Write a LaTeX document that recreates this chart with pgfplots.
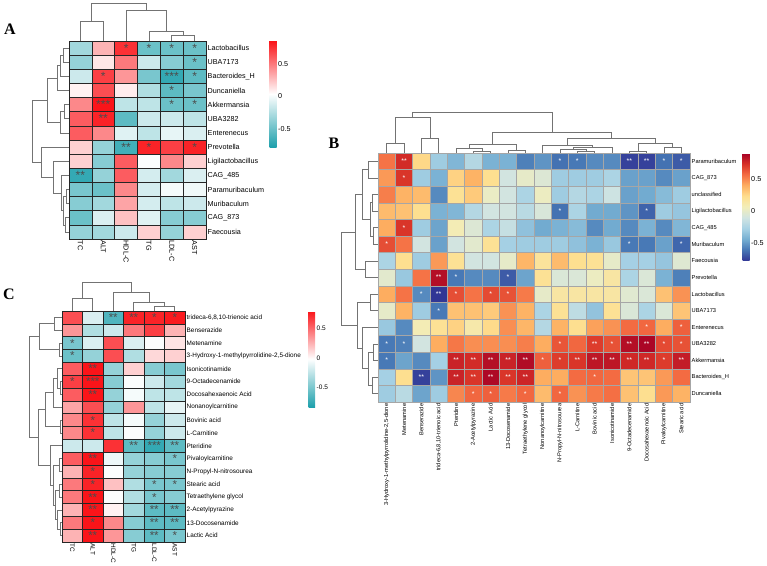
\documentclass[border=0pt]{standalone}
\usepackage{pgfplots}
\pgfplotsset{compat=1.18}
\usepackage{pgfplotstable}
\usepackage{fontspec}
\setmainfont{Liberation Sans}
\newfontfamily\letterfont{Liberation Serif}

\pgfplotsset{
  colormap={tealred}{rgb255=(30,160,172) rgb255=(255,255,255) rgb255=(250,20,25)},
  colormap={rdylbu}{rgb255=(49,54,149) rgb255=(69,117,180) rgb255=(116,173,209)
    rgb255=(166,209,228) rgb255=(208,228,226) rgb255=(242,238,186) rgb255=(254,222,142)
    rgb255=(253,174,97) rgb255=(244,109,67) rgb255=(215,48,39) rgb255=(165,0,38)},
  heat/.style={scale only axis, anchor=south west, y dir=reverse, clip=false,
    axis line style={draw=none}, tick style={draw=none}, major tick length=0pt,
    yticklabel pos=right, yticklabel style={anchor=west, inner sep=1.5pt},
    xticklabel style={inner sep=1.5pt}},
  cellbase/.style={only marks, scatter, mark=square*, point meta=explicit},
  starbase/.style={only marks, mark=none, nodes near coords, point meta=explicit symbolic},
  cbarbase/.style={colorbar, colorbar style={at={(parent axis.north east)},
    anchor=north west, width=7pt, y dir=normal, xtick=\empty,
    ytick={-0.5,0,0.5}, yticklabels={-0.5,0,0.5}, yticklabel pos=right,
    axis line style={draw=none}, tick style={draw=none}, major tick length=0pt,
    yticklabel style={anchor=west, inner sep=1.5pt}}},
  dendro/.style={black!55, line width=0.7pt, mark=none, point meta=none, unbounded coords=jump},
}

% Spearman correlations, gut genera (rows) vs serum lipids/enzymes (TC ALT HDL-C TG LDL-C AST)
\pgfplotstableread{
c0 c1 c2 c3 c4 c5
-0.30  0.30  0.75 -0.50 -0.50 -0.50
-0.35  0.12  0.50 -0.15 -0.40 -0.50
-0.15  0.70  0.40 -0.45 -0.70 -0.55
 0.08  0.65  0.10 -0.25 -0.55 -0.45
 0.45  0.85 -0.20 -0.20 -0.50 -0.50
 0.60  0.80 -0.55 -0.15 -0.15 -0.20
 0.60  0.45 -0.08 -0.20 -0.05 -0.10
 0.20 -0.35 -0.65  0.80  0.70  0.80
 0.20 -0.40  0.60  0.02  0.45  0.20
-0.70 -0.35  0.60 -0.12 -0.30 -0.10
-0.45 -0.50  0.45 -0.12  0.00 -0.02
-0.40 -0.30  0.35 -0.12 -0.20 -0.15
-0.50 -0.10  0.25 -0.08 -0.40 -0.40
-0.35 -0.30 -0.15  0.20 -0.35  0.20
}\corrA

% metabolites (rows) vs serum lipids/enzymes
\pgfplotstableread{
c0 c1 c2 c3 c4 c5
 0.60 -0.15 -0.65  0.75  0.75  0.78
 0.35 -0.30 -0.20  0.45  0.65  0.25
-0.50 -0.15  0.60 -0.15 -0.03  0.08
-0.55 -0.40  0.60 -0.30  0.12  0.15
 0.55  0.80 -0.40  0.15 -0.45 -0.50
 0.65  0.85 -0.45 -0.03 -0.20 -0.35
 0.55  0.80 -0.40 -0.05 -0.25 -0.25
 0.30  0.60 -0.40  0.35 -0.25 -0.10
 0.40  0.70 -0.25 -0.05 -0.40 -0.20
 0.40  0.70 -0.25 -0.03 -0.40 -0.20
-0.20 -0.20  0.70 -0.60 -0.75 -0.60
 0.55  0.80 -0.08 -0.40 -0.45 -0.50
 0.25  0.75 -0.03 -0.40 -0.45 -0.45
 0.45  0.75  0.20 -0.30 -0.50 -0.50
 0.45  0.80 -0.03 -0.30 -0.50 -0.45
 0.25  0.85  0.03 -0.35 -0.60 -0.60
 0.45  0.80  0.40 -0.45 -0.60 -0.60
 0.25  0.85  0.35 -0.45 -0.60 -0.50
}\corrC

% gut genera (rows) vs metabolites (columns c0..c17)
\pgfplotstableread{
c0 c1 c2 c3 c4 c5 c6 c7 c8 c9 c10 c11 c12 c13 c14 c15 c16 c17
 0.55  0.75  0.25 -0.30 -0.40 -0.22 -0.42 -0.42 -0.58 -0.52 -0.62 -0.60 -0.55 -0.55 -0.75 -0.75 -0.62 -0.68
 0.45  0.72 -0.30 -0.42  0.27  0.38  0.22 -0.10  0.00 -0.05 -0.30 -0.30 -0.30 -0.25 -0.48 -0.48 -0.55 -0.48
 0.52  0.38  0.35 -0.55  0.20  0.30  0.02 -0.10 -0.25  0.03 -0.30 -0.22 -0.25 -0.12 -0.48 -0.45 -0.38 -0.30
 0.35  0.33  0.22 -0.42 -0.40 -0.22 -0.10 -0.10 -0.20 -0.07 -0.62 -0.25 -0.45 -0.45 -0.52 -0.66 -0.30 -0.33
 0.40  0.72 -0.30 -0.47  0.08 -0.05 -0.25 -0.15 -0.35 -0.45 -0.42 -0.38 -0.55 -0.45 -0.55 -0.42 -0.55 -0.40
 0.65  0.55 -0.10 -0.48 -0.10 -0.02  0.20 -0.28 -0.30 -0.30 -0.30 -0.35 -0.42 -0.32 -0.60 -0.60 -0.48 -0.65
-0.25  0.22 -0.30  0.45  0.20 -0.10 -0.10  0.00  0.37  0.18  0.35  0.22  0.20  0.00 -0.28 -0.28 -0.33 -0.04
-0.02 -0.32  0.55  0.85 -0.60 -0.55 -0.55 -0.68 -0.47  0.20 -0.06 -0.06  0.03  0.15 -0.25 -0.06 -0.42 -0.58
 0.40  0.55 -0.55 -0.78  0.65  0.55  0.66  0.64  0.53  0.00  0.15  0.15  0.15  0.15 -0.03 -0.06  0.33  0.47
 0.00  0.38 -0.30 -0.60  0.33  0.33  0.30  0.47  0.38 -0.25  0.20 -0.18 -0.34  0.20 -0.06 -0.25 -0.06  0.32
-0.32 -0.55  0.08  0.20  0.27  0.12  0.24  0.48  0.37 -0.22  0.38  0.22  0.43  0.47  0.57  0.58  0.40  0.60
-0.60 -0.58 -0.10  0.40  0.54  0.48  0.48  0.48  0.52  0.40  0.63  0.58  0.70  0.64  0.85  0.88  0.66  0.64
-0.60 -0.47 -0.55 -0.28  0.78  0.75  0.85  0.78  0.86  0.60  0.70  0.72  0.82  0.82  0.76  0.76  0.70  0.80
-0.28  0.22 -0.75 -0.52  0.78  0.72  0.87  0.72  0.77  0.40  0.40  0.57  0.58  0.57  0.32  0.32  0.45  0.57
-0.30 -0.20 -0.47 -0.30  0.50  0.58  0.60  0.53  0.58  0.35  0.58  0.47  0.53  0.56  0.33  0.22  0.45  0.38
}\corrB

\begin{document}
\begin{tikzpicture}
\path[use as bounding box] (0pt,0pt) rectangle (767pt,565pt);

% ---- dendrograms and panel letters, in page pixel units ----
\begin{axis}[at={(0pt,0pt)}, anchor=south west, scale only axis, width=767pt, height=565pt,
  xmin=0, xmax=767, ymin=0, ymax=565, y dir=reverse, hide axis, clip=false]
% A: columns
\addplot[dendro] coordinates {
 (80.4,41)(80.4,21)(103.2,21)(103.2,41) (nan,nan)
 (171.8,41)(171.8,35)(194.6,35)(194.6,41) (nan,nan)
 (148.9,41)(148.9,31)(183.2,31)(183.2,35) (nan,nan)
 (126.1,41)(126.1,10)(166.05,10)(166.05,31) (nan,nan)
 (91.8,21)(91.8,3.5)(146.1,3.5)(146.1,10)};
% A: rows
\addplot[dendro] coordinates {
 (69,48.1)(63,48.1)(63,62.2)(69,62.2) (nan,nan)
 (63,55.15)(60,55.15)(60,76.4)(69,76.4) (nan,nan)
 (60,65.78)(57,65.78)(57,90.5)(69,90.5) (nan,nan)
 (69,104.6)(64,104.6)(64,118.8)(69,118.8) (nan,nan)
 (64,111.7)(60,111.7)(60,132.9)(69,132.9) (nan,nan)
 (57,78.14)(47,78.14)(47,122.3)(60,122.3) (nan,nan)
 (69,189.5)(66,189.5)(66,203.6)(69,203.6) (nan,nan)
 (69,217.8)(65,217.8)(65,231.9)(69,231.9) (nan,nan)
 (66,196.55)(63,196.55)(63,224.85)(65,224.85) (nan,nan)
 (69,175.4)(61,175.4)(61,210.7)(63,210.7) (nan,nan)
 (69,161.2)(53,161.2)(53,193.05)(61,193.05) (nan,nan)
 (69,147.1)(41,147.1)(41,177.1)(53,177.1) (nan,nan)
 (47,100.2)(32,100.2)(32,162.1)(41,162.1)};
% C: columns
\addplot[dendro] coordinates {
 (72.25,311)(72.25,298)(92.75,298)(92.75,311) (nan,nan)
 (154.25,311)(154.25,306)(174.75,306)(174.75,311) (nan,nan)
 (133.75,311)(133.75,302)(164.5,302)(164.5,306) (nan,nan)
 (113.25,311)(113.25,292)(149.1,292)(149.1,302) (nan,nan)
 (82.5,298)(82.5,282)(131.2,282)(131.2,292)};
% C: rows
\addplot[dendro] coordinates {
 (62,317.4)(54,317.4)(54,330.2)(62,330.2) (nan,nan)
 (62,343.1)(59,343.1)(59,355.9)(62,355.9) (nan,nan)
 (54,323.8)(39,323.8)(39,349.5)(59,349.5) (nan,nan)
 (62,381.6)(60,381.6)(60,394.4)(62,394.4) (nan,nan)
 (62,368.7)(57,368.7)(57,388)(60,388) (nan,nan)
 (57,378.35)(53,378.35)(53,407.2)(62,407.2) (nan,nan)
 (62,420.1)(60,420.1)(60,432.9)(62,432.9) (nan,nan)
 (53,392.8)(45,392.8)(45,426.5)(60,426.5) (nan,nan)
 (62,458.6)(59,458.6)(59,471.4)(62,471.4) (nan,nan)
 (62,484.3)(59.5,484.3)(59.5,497.1)(62,497.1) (nan,nan)
 (62,522.8)(60,522.8)(60,535.6)(62,535.6) (nan,nan)
 (62,509.9)(57,509.9)(57,529.2)(60,529.2) (nan,nan)
 (59.5,490.7)(55,490.7)(55,519.55)(57,519.55) (nan,nan)
 (59,465)(53,465)(53,505.1)(55,505.1) (nan,nan)
 (62,445.8)(50,445.8)(50,485.05)(53,485.05) (nan,nan)
 (45,409.65)(38,409.65)(38,465.4)(50,465.4) (nan,nan)
 (39,336.65)(29,336.65)(29,437.5)(38,437.5)};
% B: columns
\addplot[dendro] coordinates {
 (386.7,153)(386.7,143)(404,143)(404,153) (nan,nan)
 (421.3,153)(421.3,138)(438.7,138)(438.7,153) (nan,nan)
 (395.35,143)(395.35,117)(430,117)(430,138) (nan,nan)
 (473.3,153)(473.3,151)(490.7,151)(490.7,153) (nan,nan)
 (456,153)(456,148)(482,148)(482,151) (nan,nan)
 (508,153)(508,150)(525.3,150)(525.3,153) (nan,nan)
 (469,148)(469,144)(516.65,144)(516.65,150) (nan,nan)
 (577.3,153)(577.3,151)(594.7,151)(594.7,153) (nan,nan)
 (560,153)(560,149)(586,149)(586,151) (nan,nan)
 (573,149)(573,147)(612,147)(612,153) (nan,nan)
 (542.7,153)(542.7,145)(592.5,145)(592.5,147) (nan,nan)
 (629.3,153)(629.3,151)(646.7,151)(646.7,153) (nan,nan)
 (664,153)(664,147)(681.3,147)(681.3,153) (nan,nan)
 (638,151)(638,143)(672.65,143)(672.65,147) (nan,nan)
 (567.6,145)(567.6,138)(655.3,138)(655.3,143) (nan,nan)
 (492.8,144)(492.8,132)(611.5,132)(611.5,138) (nan,nan)
 (412.7,117)(412.7,112)(552.1,112)(552.1,132)};
% B: rows
\addplot[dendro] coordinates {
 (378,161.3)(368,161.3)(368,177.9)(378,177.9) (nan,nan)
 (378,194.5)(372,194.5)(372,211.1)(378,211.1) (nan,nan)
 (378,227.7)(373,227.7)(373,244.3)(378,244.3) (nan,nan)
 (372,202.8)(370,202.8)(370,236)(373,236) (nan,nan)
 (368,169.6)(362,169.6)(362,219.4)(370,219.4) (nan,nan)
 (378,260.9)(365,260.9)(365,277.5)(378,277.5) (nan,nan)
 (362,194.5)(355,194.5)(355,269.2)(365,269.2) (nan,nan)
 (378,294.1)(370,294.1)(370,310.7)(378,310.7) (nan,nan)
 (378,343.9)(373,343.9)(373,360.5)(378,360.5) (nan,nan)
 (378,377.1)(372,377.1)(372,393.7)(378,393.7) (nan,nan)
 (373,352.2)(368,352.2)(368,385.4)(372,385.4) (nan,nan)
 (378,327.3)(362,327.3)(362,368.8)(368,368.8) (nan,nan)
 (370,302.4)(357,302.4)(357,348.05)(362,348.05) (nan,nan)
 (355,231.85)(341,231.85)(341,325.2)(357,325.2)};
\node[font={\letterfont\bfseries\fontsize{16}{16}\selectfont}] at (axis cs:10,29.5) {A};
\node[font={\letterfont\bfseries\fontsize{16}{16}\selectfont}] at (axis cs:334,143) {B};
\node[font={\letterfont\bfseries\fontsize{16}{16}\selectfont}] at (axis cs:9,294) {C};
\end{axis}

% ---- A: genera vs lipids ----
\begin{axis}[heat, at={(69pt,326pt)}, width=137pt, height=198pt,
  xmin=-0.5, xmax=5.5, ymin=-0.5, ymax=13.5,
  colormap name=tealred, point meta min=-0.78, point meta max=0.85,
  xtick={0,...,5}, xticklabels={TC,ALT,HDL-C,TG,LDL-C,AST},
  ytick={0,...,13},
  yticklabels={Lactobacillus,UBA7173,Bacteroides\_H,Duncaniella,Akkermansia,UBA3282,Enterenecus,Prevotella,Ligilactobacillus,CAG\_485,Paramuribaculum,Muribaculum,CAG\_873,Faecousia},
  ticklabel style={font=\fontsize{7.2}{8}\selectfont},
  xticklabel style={rotate=-90, anchor=west},
  cbarbase, colorbar style={xshift=55pt, height=106pt,
    yticklabel style={font=\fontsize{7.2}{8}\selectfont}}]
\pgfplotsinvokeforeach{0,...,5}{
  \addplot[cellbase, mark size=7.07pt, mark options={xscale=1.615, line width=0.45pt},
    scatter/use mapped color={draw=black!85, fill=mapped color}]
    table[x expr=#1, y expr=\coordindex, meta=c#1] {\corrA};
}
\addplot[starbase, nodes near coords style={anchor=center, inner sep=0pt,
    font=\fontsize{12}{12}\selectfont, text=black!70}]
  table[x=col, y=row, meta=sig] {
col row sig
2 0 *
3 0 *
4 0 *
5 0 *
5 1 *
1 2 *
4 2 ***
5 2 *
4 3 *
1 4 ***
4 4 *
5 4 *
1 5 **
2 7 **
3 7 *
5 7 *
0 9 **
};
\end{axis}

% ---- C: metabolites vs lipids ----
\begin{axis}[heat, at={(62pt,23pt)}, width=123pt, height=231pt,
  xmin=-0.5, xmax=5.5, ymin=-0.5, ymax=17.5,
  colormap name=tealred, point meta min=-0.83, point meta max=0.80,
  xtick={0,...,5}, xticklabels={TC,ALT,HDL-C,TG,LDL-C,AST},
  ytick={0,...,17},
  yticklabels={{trideca-6,8,10-trienoic acid},Benserazide,Metenamine,{3-Hydroxy-1-methylpyrrolidine-2,5-dione},Isonicotinamide,9-Octadecenamide,Docosahexaenoic Acid,Nonanoylcarnitine,Bovinic acid,L-Carnitine,Pteridine,Pivaloylcarnitine,N-Propyl-N-nitrosourea,Stearic acid,Tetraethylene glycol,2-Acetylpyrazine,13-Docosenamide,Lactic Acid},
  ticklabel style={font=\fontsize{6.4}{7}\selectfont},
  xticklabel style={rotate=-90, anchor=west},
  cbarbase, colorbar style={xshift=115pt, width=6.5pt, height=96pt,
    yticklabel style={font=\fontsize{6.5}{7}\selectfont}}]
\pgfplotsinvokeforeach{0,...,5}{
  \addplot[cellbase, mark size=6.415pt, mark options={xscale=1.598, line width=0.45pt},
    scatter/use mapped color={draw=black!85, fill=mapped color}]
    table[x expr=#1, y expr=\coordindex, meta=c#1] {\corrC};
}
\addplot[starbase, nodes near coords style={anchor=center, inner sep=0pt,
    font=\fontsize{11.5}{11.5}\selectfont, text=black!70}]
  table[x=col, y=row, meta=sig] {
col row sig
2 0 **
3 0 **
4 0 *
5 0 *
0 2 *
0 3 *
1 4 **
0 5 *
1 5 ***
1 6 **
1 8 *
1 9 *
3 10 **
4 10 ***
5 10 **
1 11 **
5 11 *
1 12 *
1 13 *
4 13 *
5 13 *
1 14 **
4 14 *
1 15 **
4 15 **
5 15 **
1 16 *
4 16 **
5 16 **
1 17 **
4 17 **
5 17 *
};
\end{axis}

% ---- B: genera vs metabolites ----
\begin{axis}[heat, at={(378pt,163pt)}, width=312pt, height=249pt,
  xmin=-0.5, xmax=17.5, ymin=-0.5, ymax=14.5,
  colormap name=rdylbu, point meta min=-0.78, point meta max=0.90,
  xtick={0,...,17},
  xticklabels={{3-Hydroxy-1-methylpyrrolidine-2,5-dione},Metenamine,Benserazide,{trideca-6,8,10-trienoic acid},Pteridine,2-Acetylpyrazine,Lactic Acid,13-Docosenamide,Tetraethylene glycol,Nonanoylcarnitine,N-Propyl-N-nitrosourea,L-Carnitine,Bovinic acid,Isonicotinamide,9-Octadecenamide,Docosahexaenoic Acid,Pivaloylcarnitine,Stearic acid},
  ytick={0,...,14},
  yticklabels={Paramuribaculum,CAG\_873,unclassified,Ligilactobacillus,CAG\_485,Muribaculum,Faecousia,Prevotella,Lactobacillus,UBA7173,Enterenecus,UBA3282,Akkermansia,Bacteroides\_H,Duncaniella},
  ticklabel style={font=\fontsize{5.7}{6.5}\selectfont},
  xticklabel style={rotate=90, anchor=east},
  cbarbase, colorbar style={xshift=44pt, height=108pt,
    yticklabel style={font=\fontsize{7.2}{8}\selectfont}}]
\pgfplotsinvokeforeach{0,...,17}{
  \addplot[cellbase, mark size=8.3pt, mark options={xscale=1.044, line width=0.45pt},
    scatter/use mapped color={draw=black!35, fill=mapped color}]
    table[x expr=#1, y expr=\coordindex, meta=c#1] {\corrB};
}
\addplot[starbase, nodes near coords style={anchor=center, inner sep=0pt,
    font=\fontsize{7}{7}\selectfont, text=white}]
  table[x=col, y=row, meta=sig] {
col row sig
1 0 **
10 0 *
11 0 *
14 0 **
15 0 **
16 0 *
17 0 *
1 1 *
10 3 *
15 3 *
1 4 *
0 5 *
14 5 *
17 5 *
3 7 **
4 7 *
7 7 *
2 8 *
3 8 **
4 8 *
6 8 *
7 8 *
3 9 *
15 10 *
17 10 *
0 11 *
1 11 *
10 11 *
12 11 **
13 11 *
14 11 **
15 11 **
16 11 *
17 11 *
0 12 *
4 12 **
5 12 **
6 12 **
7 12 **
8 12 **
9 12 *
10 12 *
11 12 **
12 12 **
13 12 **
14 12 **
15 12 **
16 12 *
17 12 **
2 13 **
4 13 **
5 13 **
6 13 **
7 13 **
8 13 **
12 13 *
5 14 *
6 14 *
8 14 *
10 14 *
};
\end{axis}
\end{tikzpicture}
\end{document}
